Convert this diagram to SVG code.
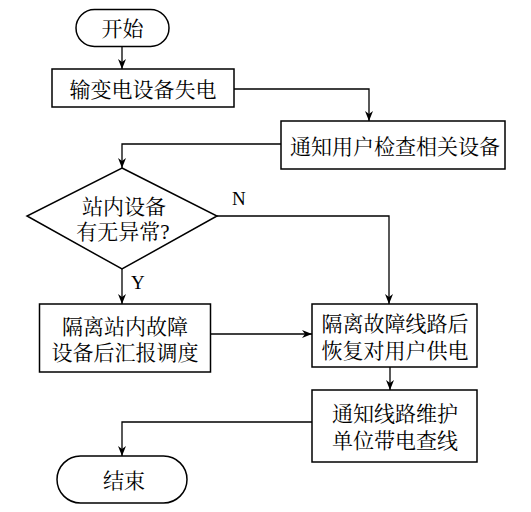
<svg xmlns="http://www.w3.org/2000/svg" width="531" height="512" viewBox="0 0 531 512">
<style>
.shape{fill:#fff;stroke:#000;stroke-width:1.5}
.line{fill:none;stroke:#000;stroke-width:1.3}
.t{font-family:"Liberation Serif","Noto Serif CJK SC","Noto Sans CJK SC",serif;font-size:21px;fill:#000;text-anchor:middle}
.lbl{font-family:"Liberation Serif",serif;font-size:19px;fill:#000}
</style>
<defs>
<marker id="arr" markerUnits="userSpaceOnUse" markerWidth="12" markerHeight="10" refX="10" refY="4" orient="auto">
<path d="M0,0 L10,4 L0,8 L3,4 Z" fill="#000"/>
</marker>
</defs>
<rect width="531" height="512" fill="#fff"/>
<g id="connectors">
<path class="line" d="M122,46 V69" marker-end="url(#arr)"/>
<path class="line" d="M234,89 H369 V121" marker-end="url(#arr)"/>
<path class="line" d="M281,144 H122 V168" marker-end="url(#arr)"/>
<path class="line" d="M122,269 V304" marker-end="url(#arr)"/>
<path class="line" d="M217,216 H389 V304" marker-end="url(#arr)"/>
<path class="line" d="M211,334 H312" marker-end="url(#arr)"/>
<path class="line" d="M390,367 V390" marker-end="url(#arr)"/>
<path class="line" d="M312,422 H122 V456" marker-end="url(#arr)"/>
<text class="lbl" x="232" y="205">N</text>
<text class="lbl" x="131" y="289">Y</text>
</g>
<g id="start">
<rect class="shape" x="76" y="9.5" width="93" height="37" rx="18.5" ry="18.5"/>
<text class="t" x="122.5" y="35.5">开始</text>
</g>
<g id="n1">
<rect class="shape" x="52" y="69" width="182" height="38"/>
<text class="t" x="143" y="96.5">输变电设备失电</text>
</g>
<g id="n2">
<rect class="shape" x="281" y="121" width="224" height="48"/>
<text class="t" x="395" y="153.5">通知用户检查相关设备</text>
</g>
<g id="decision">
<polygon class="shape" points="122,168 217,216 122,269 27,216"/>
<text class="t" x="124" y="213.5">站内设备</text>
<text class="t" x="123" y="238.5">有无异常?</text>
</g>
<g id="n3">
<rect class="shape" x="39.5" y="304" width="171" height="68"/>
<text class="t" x="125" y="333.5">隔离站内故障</text>
<text class="t" x="125" y="360">设备后汇报调度</text>
</g>
<g id="n4">
<rect class="shape" x="312" y="304" width="165" height="63"/>
<text class="t" x="395" y="331">隔离故障线路后</text>
<text class="t" x="395" y="358">恢复对用户供电</text>
</g>
<g id="n5">
<rect class="shape" x="312" y="390" width="165" height="72"/>
<text class="t" x="395" y="421">通知线路维护</text>
<text class="t" x="395" y="447.5">单位带电查线</text>
</g>
<g id="end">
<rect class="shape" x="57" y="456" width="130" height="47" rx="23.5" ry="23.5"/>
<text class="t" x="124" y="488">结束</text>
</g>
</svg>
